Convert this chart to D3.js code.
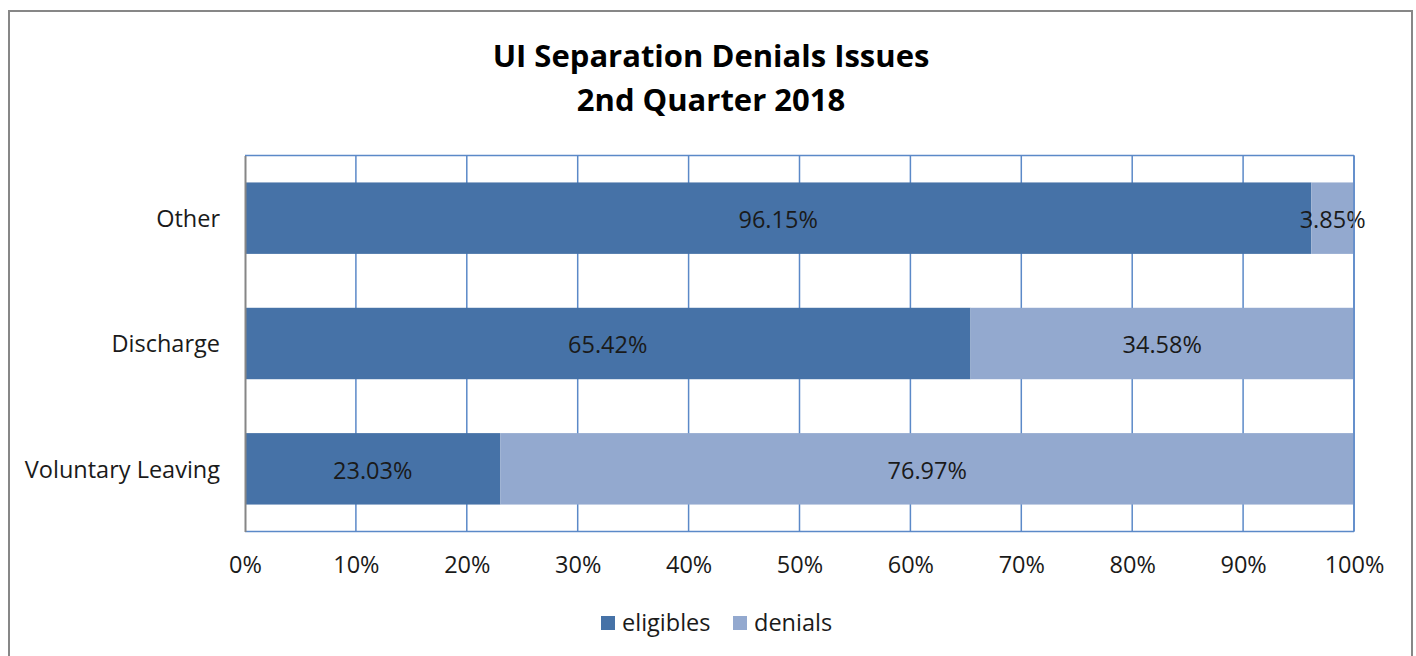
<!DOCTYPE html>
<html><head><meta charset="utf-8">
<script src="https://cdn.jsdelivr.net/npm/d3@7"></script>
<style>body{margin:0;background:#fff;} svg{display:block;font-family:"Open Sans",sans-serif;}</style>
</head><body>
<svg id="c" width="1416" height="656"></svg>
<script>
const categories = ["Other", "Discharge", "Voluntary Leaving"];
const eligibles = [96.15, 65.42, 23.03];
const denials = [3.85, 34.58, 76.97];
const seriesNames = ["eligibles", "denials"];
const tickValues = [0,10,20,30,40,50,60,70,80,90,100];
const titleLines = ["UI Separation Denials Issues", "2nd Quarter 2018"];

const FONT = '"Open Sans",sans-serif';
const LBL = 23.5;
const colors = {eligibles:"#4672A7", denials:"#93A9CF"};
const svg = d3.select("#c");
svg.append("rect").attr("x",9).attr("y",11).attr("width",1403).attr("height",660)
  .attr("fill","#fff").attr("stroke","#878787").attr("stroke-width",2);

const L=245, R=1354, T=155.5, B=531.5;
const x = d3.scaleLinear().domain([0,100]).range([L,R]);
const y = d3.scaleBand().domain(categories).range([T,B]).paddingInner(0.43).paddingOuter(0.215);

// title
svg.append("g").selectAll("text").data(titleLines).join("text")
  .attr("x",711).attr("y",(d,i)=>67+i*44).attr("text-anchor","middle")
  .attr("font-size",31).attr("font-weight","bold").attr("fill","#000").text(d=>d);

// gridlines
svg.append("g").selectAll("line").data(tickValues.slice(1)).join("line")
  .attr("x1",d=>x(d)).attr("x2",d=>x(d)).attr("y1",T).attr("y2",B)
  .attr("stroke","#5B89C8").attr("stroke-width",1.5);

const stack = d3.stack().keys(seriesNames)(categories.map((c,i)=>({cat:c, eligibles:eligibles[i], denials:denials[i]})));
const g = svg.append("g");
stack.forEach(s=>{
  g.selectAll(null).data(s).join("rect")
    .attr("x",d=>x(d[0])).attr("width",d=>x(d[1])-x(d[0]))
    .attr("y",d=>y(d.data.cat)).attr("height",y.bandwidth())
    .attr("fill",colors[s.key]);
});
stack.forEach(s=>{
  g.selectAll(null).data(s).join("text")
    .attr("x",d=>(x(d[0])+x(d[1]))/2).attr("y",d=>y(d.data.cat)+y.bandwidth()/2)
    .attr("dy","0.42em").attr("text-anchor","middle").attr("font-size",LBL).attr("fill","#1a1a1a")
    .text(d=>(d[1]-d[0]).toFixed(2)+"%");
});

// plot border
svg.append("line").attr("x1",L).attr("x2",R).attr("y1",T).attr("y2",T).attr("stroke","#5B89C8").attr("stroke-width",1.5);
svg.append("line").attr("x1",R).attr("x2",R).attr("y1",T).attr("y2",B).attr("stroke","#5B89C8").attr("stroke-width",1.5);
svg.append("line").attr("x1",L).attr("x2",R).attr("y1",B).attr("y2",B).attr("stroke","#5B89C8").attr("stroke-width",1.5);

// x axis
const xa = svg.append("g").attr("transform",`translate(0,${B})`)
  .call(d3.axisBottom(x).tickValues(tickValues).tickSize(0).tickPadding(25).tickFormat(d=>d+"%"));
xa.select(".domain").remove();
xa.selectAll("text").attr("font-size",LBL).attr("fill","#1a1a1a").attr("font-family",FONT);

// y axis
const ya = svg.append("g").attr("transform",`translate(${L},0)`)
  .call(d3.axisLeft(y).tickSize(0).tickPadding(25));
ya.select(".domain").attr("stroke","#868686").attr("stroke-width",2);
ya.selectAll("text").attr("font-size",LBL).attr("fill","#1a1a1a").attr("font-family",FONT).attr("dy","0.38em");

// legend
const leg = svg.append("g");
const lx=[601,733];
seriesNames.forEach((n,i)=>{
  leg.append("rect").attr("x",lx[i]).attr("y",616).attr("width",14).attr("height",14).attr("fill",colors[n]);
  leg.append("text").attr("x",lx[i]+21).attr("y",623).attr("dy","0.36em").attr("font-size",LBL).attr("fill","#1a1a1a").text(n);
});
</script>
</body></html>
